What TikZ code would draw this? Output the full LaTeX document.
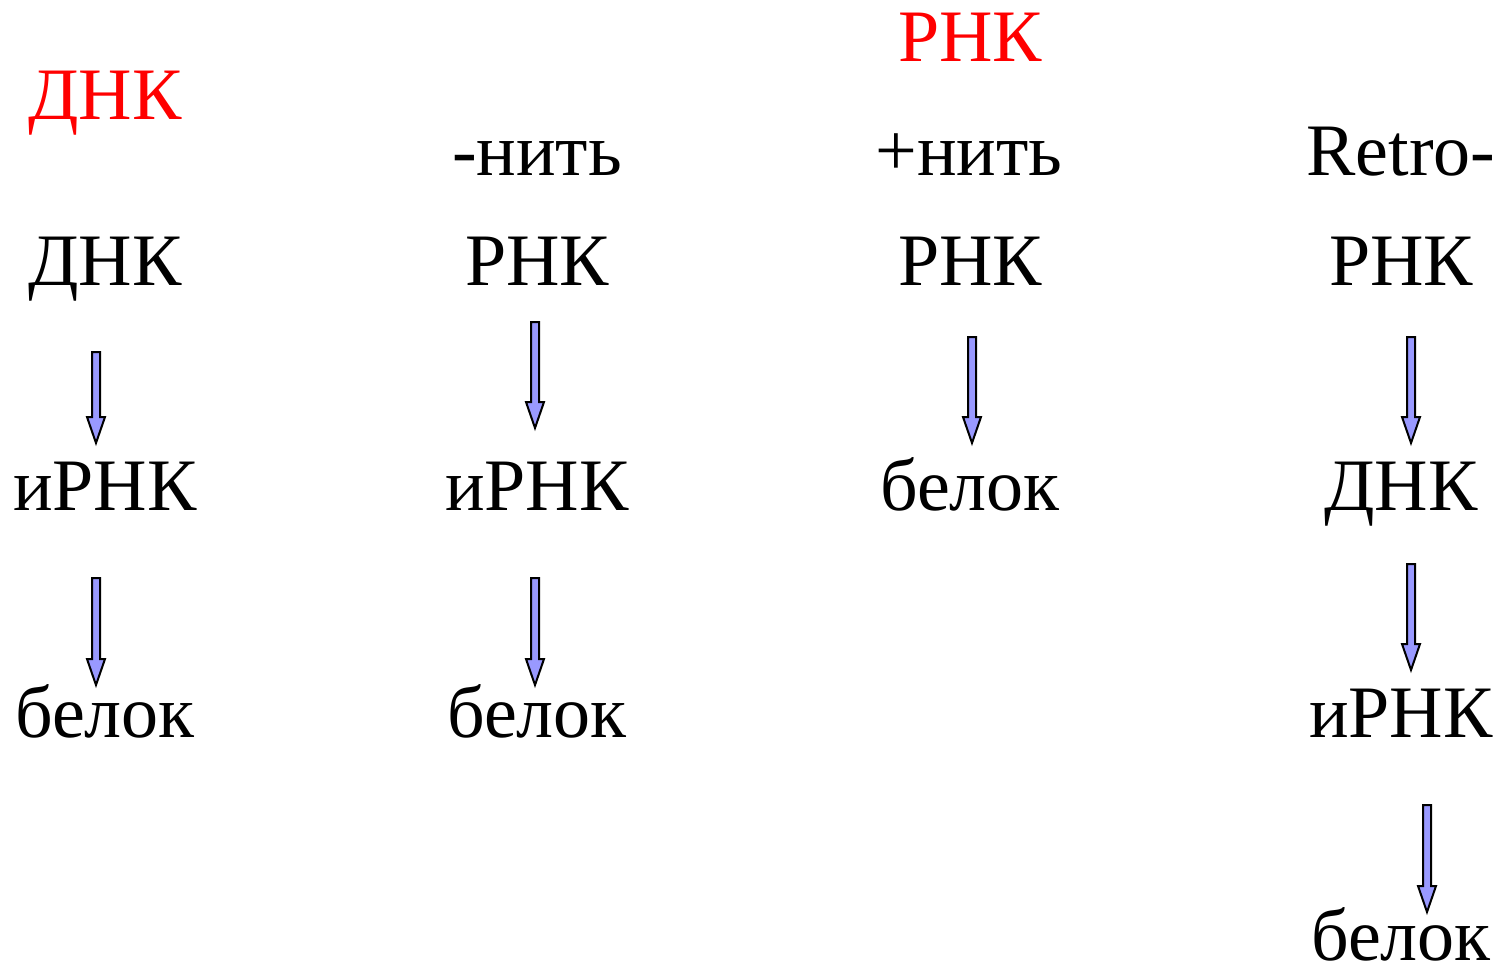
\documentclass[tikz,border=0pt]{standalone}
\usepackage{fontspec}
\setmainfont{Liberation Serif}
\usetikzlibrary{calc}
\definecolor{arrowfill}{RGB}{153,153,255}
\definecolor{titlered}{RGB}{255,0,0}
\tikzset{
  word/.style={anchor=base, inner sep=0pt, font=\fontsize{74}{88}\selectfont},
  title/.style={word, text=titlered},
  blockarrow/.style={draw=black, line width=2pt, fill=arrowfill, line join=miter}
}
% block arrow pointing down: top coordinate, bottom coordinate
\newcommand{\downblock}[2]{%
  \draw[blockarrow] ($(#1)+(-4,0)$) -- ($(#2)+(-4,-26)$) -- ($(#2)+(-9,-26)$)
    -- (#2) -- ($(#2)+(9,-26)$) -- ($(#2)+(4,-26)$) -- ($(#1)+(4,0)$) -- cycle;}

\begin{document}
\begin{tikzpicture}[x=1pt, y=-1pt]
    \useasboundingbox (0,0) rectangle (1501,971);
    % titles
    \node[title] (dnatitle) at (105,120) {ДНК};
    \node[title] (rnatitle) at (970,62) {РНК};
    \node[word] (minus) at (537,175) {-нить};
    \node[word] (plus) at (969,175) {+нить};
    \node[word] (retro) at (1401,175) {Retro-};
    % column 1
    \node[word] (dna1) at (105,285) {ДНК};
    \node[word] (mrna1) at (105,510) {иРНК};
    \node[word] (prot1) at (105,737) {белок};
    % column 2
    \node[word] (rna2) at (537,285) {РНК};
    \node[word] (mrna2) at (537,510) {иРНК};
    \node[word] (prot2) at (537,737) {белок};
    % column 3
    \node[word] (rna3) at (970,285) {РНК};
    \node[word] (prot3) at (970,510) {белок};
    % column 4
    \node[word] (rna4) at (1401,285) {РНК};
    \node[word] (dna4) at (1401,510) {ДНК};
    \node[word] (mrna4) at (1401,737) {иРНК};
    \node[word] (prot4) at (1401,960) {белок};
    % arrow ends
    \coordinate (a1s) at (96,352);   \coordinate (a1e) at (96,443);
    \coordinate (b1s) at (96,578);   \coordinate (b1e) at (96,685);
    \coordinate (a2s) at (535,322);  \coordinate (a2e) at (535,428);
    \coordinate (b2s) at (535,578);  \coordinate (b2e) at (535,685);
    \coordinate (a3s) at (972,337);  \coordinate (a3e) at (972,443);
    \coordinate (a4s) at (1411,337); \coordinate (a4e) at (1411,443);
    \coordinate (b4s) at (1411,564); \coordinate (b4e) at (1411,670);
    \coordinate (c4s) at (1427,805); \coordinate (c4e) at (1427,912);
    \foreach \p in {a1,b1,a2,b2,a3,a4,b4,c4}{
        \downblock{\p s}{\p e}
    }
\end{tikzpicture}
\end{document}
